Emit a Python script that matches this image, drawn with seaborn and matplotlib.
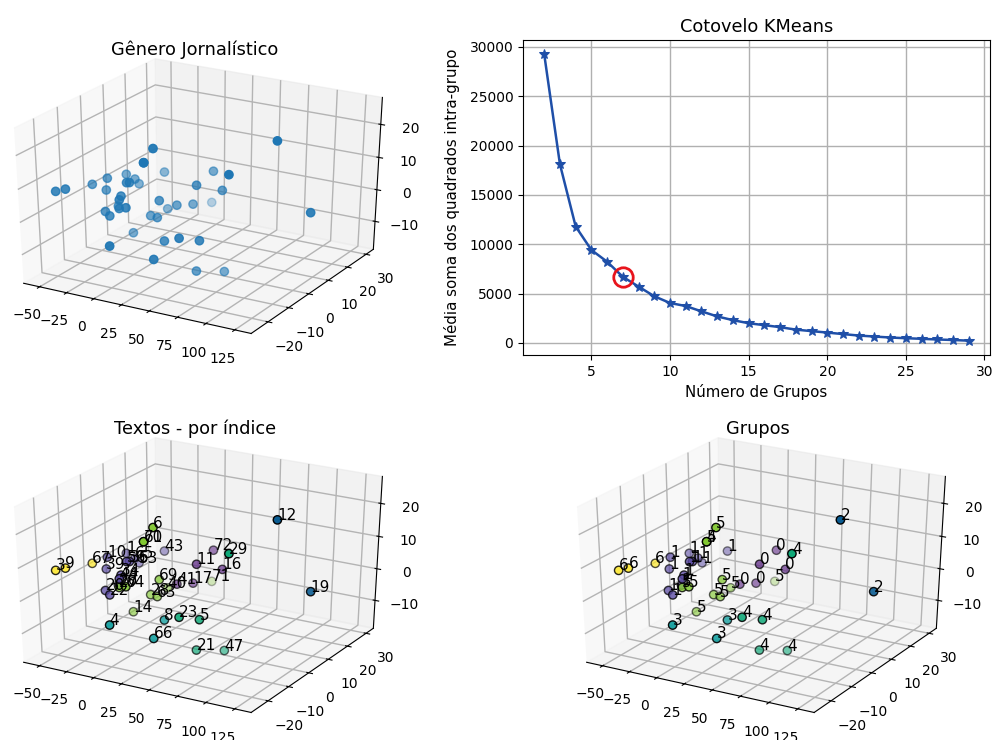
import numpy as np
import matplotlib
matplotlib.use("Agg")
import matplotlib.pyplot as plt
import seaborn as sns

# pontos projetados (x, y, z)
xs = [-49.1, -43.3, -35.4, -27.1, -24.4, -21.2, -14.0, -12.7, -7.2, -5.4, -7.2, -4.3, -11.7, -4.8,
      2.3, -16.0, -9.0, 9.7, 8.6, 9.1, -1.7, 36.7, 69.2, 37.5, 53.5, 28.7, 32.4, 24.6, 11.3, 17.0,
      10.0, 17.8, 0.4, 8.0, 34.6, 48.9, 60.4, 38.1, 59.2, 73.1, 91.6, 128.8]
ys = [-19.6, -18.1, -10.2, -7.5, -9.4, -1.9, -1.6, -0.4, -8.7, -8.3, -11.3, -13.5, -10.4, -13.4,
      -13.9, -14.1, -15.6, -9.3, -8.7, -4.7, 5.8, 8.9, -1.2, 0.5, 4.2, 12.4, 1.5, -2.0, 0.5, -6.2,
      -6.7, -7.6, -9.9, -24.2, -13.0, -13.6, -10.2, -19.7, -11.0, -5.1, 9.4, 5.5]
zs = [7.3, 7.8, 6.8, 8.2, 5.5, 7.7, 6.6, 4.8, 8.6, 8.6, 5.5, 5.4, 1.8, 2.7, 3.6, 1.3, 1.0, 15.9,
      15.6, 18.4, 6.8, 8.4, 13.2, 7.3, 5.4, -3.1, 0.8, 1.3, -1.7, 3.8, -1.1, -0.8, -5.8, -3.6,
      -4.7, -2.6, -3.9, -7.4, -13.1, -14.7, 20.8, 3.2]
indices = ["3", "9", "67", "10", "39", "1", "65", "53", "56", "36", "34", "44", "26", "27",
           "64", "20", "22", "70", "61", "6", "43", "72", "29", "11", "16", "71", "17", "41", "40", "69",
           "28", "63", "14", "4", "8", "23", "5", "66", "21", "47", "12", "19"]
grupos = [6, 6, 6, 1, 1, 1, 1, 1, 1, 1, 1, 1, 1, 5,
          5, 1, 1, 5, 4, 5, 1, 0, 4, 0, 0, 5, 0, 0, 5, 5,
          5, 5, 5, 3, 3, 4, 4, 3, 4, 4, 2, 2]
cores_grupos = ["#5f2a86", "#5a4aa2", "#0a5c92", "#14a0a0", "#0fa878", "#82c832", "#fde725"]

# cotovelo
n_grupos = list(range(2, 30))
inercia = [29250, 18100, 11800, 9420, 8230, 6700, 5710, 4730, 4050, 3740, 3200, 2690, 2310, 2000,
           1800, 1600, 1350, 1200, 1050, 900, 750, 650, 550, 480, 420, 350, 300, 230]
n_escolhido = 7
inercia_escolhida = 6700

xticks = [-50, -25, 0, 25, 50, 75, 100, 125]
yticks = [-20, -10, 0, 10, 20, 30]
zticks = [-10, 0, 10, 20]

W, H = 994, 740


def eixo_3d(fig, esquerda, topo, titulo):
    ax = fig.add_axes(
        [esquerda / W, 1 - (topo + 315) / H, 467 / W, 315 / H],
        projection="3d"
    )
    # preenche o retangulo inteiro, como nas versoes antigas
    ax.apply_aspect = lambda position=None: None
    ax.set_box_aspect((1, 1, 1), zoom=1.04 / 1.1)
    ax.set_xlim(-65, 139)
    ax.set_ylim(-28, 34)
    ax.set_zlim(-19, 28)
    ax.set_xticks(xticks)
    ax.set_yticks(yticks)
    ax.set_zticks(zticks)
    ax.tick_params(axis="x", pad=5.5)
    ax.tick_params(axis="y", pad=5.5)
    ax.tick_params(axis="z", pad=4.5)
    for eixo in [ax.xaxis, ax.yaxis, ax.zaxis]:
        eixo._axinfo["grid"]["linewidth"] = 1.0
        eixo._axinfo["grid"]["color"] = "#b4b4b4"
    ax.set_title(titulo, y=1.0, fontsize=12.8)
    return ax


def main():
    paleta = sns.color_palette(cores_grupos)
    cores = [paleta[g] for g in grupos]

    fig = plt.figure(figsize=(W / 100, H / 100), dpi=100)

    ax1 = eixo_3d(fig, -38.5, 38, "Gênero Jornalístico")
    ax1.scatter(xs, ys, zs, s=36)

    ax2 = fig.add_axes([523 / W, 1 - 355 / H, 467 / W, 315 / H])
    sns.lineplot(
        x=n_grupos,
        y=inercia,
        color="#1f4fa8",
        linewidth=1.8,
        marker="*",
        markersize=7.5,
        markeredgecolor="#1f4fa8",
        ax=ax2
    )
    ax2.plot(
        [n_escolhido],
        [inercia_escolhida],
        marker="o",
        markersize=14,
        markerfacecolor="none",
        markeredgecolor="#e8141c",
        markeredgewidth=2
    )
    ax2.grid(True, color="#b0b0b0", linewidth=1.0)
    ax2.set_axisbelow(True)
    ax2.set_xticks([5, 10, 15, 20, 25, 30])
    ax2.set_yticks([0, 5000, 10000, 15000, 20000, 25000, 30000])
    ax2.set_title("Cotovelo KMeans", fontsize=12.8)
    ax2.set_xlabel("Número de Grupos", fontsize=10.8)
    ax2.set_ylabel("Média soma dos quadrados intra-grupo", fontsize=10.8, labelpad=7)

    ax3 = eixo_3d(fig, -38.5, 417, "Textos - por índice")
    ax3.scatter(xs, ys, zs, s=36, c=cores, edgecolors="black", linewidths=1)
    for x, y, z, rotulo in zip(xs, ys, zs, indices):
        ax3.text(x, y, z, rotulo, fontsize=11)

    ax4 = eixo_3d(fig, 524.5, 417, "Grupos")
    ax4.scatter(xs, ys, zs, s=36, c=cores, edgecolors="black", linewidths=1)
    for x, y, z, g in zip(xs, ys, zs, grupos):
        ax4.text(x, y, z, str(g), fontsize=11)

    fig.savefig("out.png", dpi=100)
    plt.close(fig)


if __name__ == "__main__":
    main()
